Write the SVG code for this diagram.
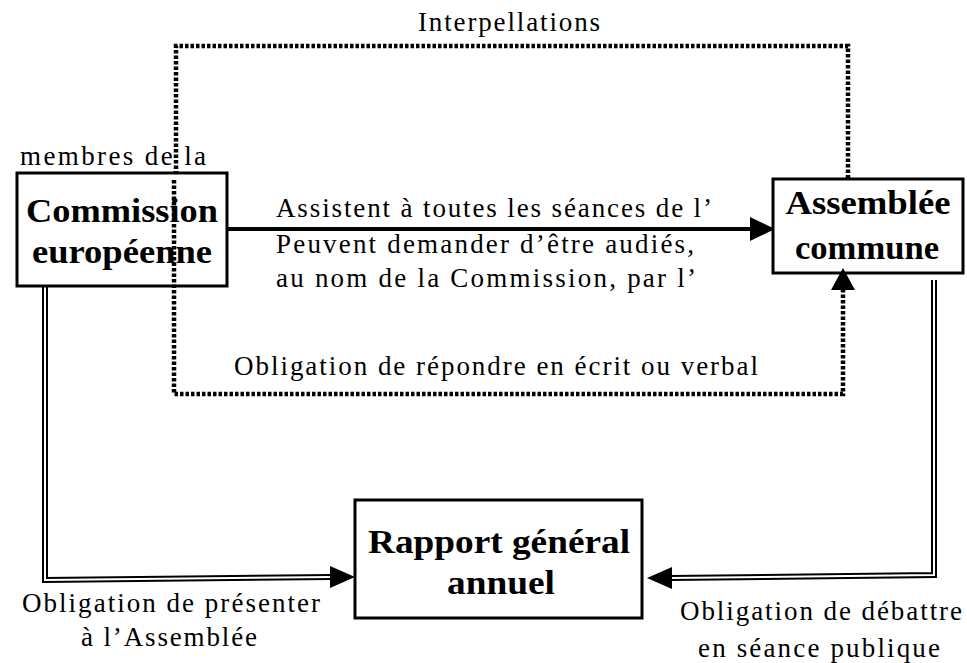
<svg xmlns="http://www.w3.org/2000/svg" width="967" height="663" viewBox="0 0 967 663">
<style>
.box{fill:#fff;stroke:#000;stroke-width:3}
.t{font-family:"Liberation Serif","Times New Roman",serif;font-size:27px;fill:#000}
.b{font-family:"Liberation Serif","Times New Roman",serif;font-size:34px;font-weight:bold;fill:#000}
.dot{fill:none;stroke:#000;stroke-width:4.5;stroke-dasharray:3.5 2}
.dbo{fill:none;stroke:#000;stroke-width:6}
.dbi{fill:none;stroke:#fff;stroke-width:2}
</style>
<rect width="967" height="663" fill="#fff"/>
<g id="connectors">
  <polyline class="dot" points="176,180 176,46 848,46 848,178"/>
  <polygon points="163,180 187,180 175,198"/>
  <polyline class="dbo" points="45,287 45,580 332,577"/>
  <polyline class="dbi" points="45,287 45,580 332,577"/>
  <polygon points="330,566 355,577 330,588"/>
  <polyline class="dbo" points="934,280 934,575 670,578"/>
  <polyline class="dbi" points="934,280 934,575 670,578"/>
  <polygon points="672,567 647,578 672,589"/>
  <line x1="228" y1="229" x2="752" y2="229" stroke="#000" stroke-width="4"/>
  <polygon points="750,217 775,229 750,241"/>
</g>
<g id="commission">
  <rect class="box" x="17" y="173" width="210" height="113"/>
  <text class="b" x="122" y="222" text-anchor="middle" textLength="192" lengthAdjust="spacingAndGlyphs">Commission</text>
  <text class="b" x="122" y="263" text-anchor="middle" textLength="180" lengthAdjust="spacingAndGlyphs">européenne</text>
</g>
<g id="assemblee">
  <rect class="box" x="773" y="179" width="190" height="94"/>
  <text class="b" x="868" y="214" text-anchor="middle" textLength="165" lengthAdjust="spacingAndGlyphs">Assemblée</text>
  <text class="b" x="867" y="259" text-anchor="middle" textLength="144" lengthAdjust="spacingAndGlyphs">commune</text>
</g>
<g id="rapport">
  <rect class="box" x="355" y="500" width="287" height="118"/>
  <text class="b" x="499" y="553" text-anchor="middle" textLength="262" lengthAdjust="spacingAndGlyphs">Rapport général</text>
  <text class="b" x="501" y="594" text-anchor="middle" textLength="108" lengthAdjust="spacingAndGlyphs">annuel</text>
</g>
<g id="dotted-return">
  <polyline class="dot" points="174,180 174,394 843,394 843,290"/>
  <polygon points="831,290 855,290 843,268"/>
</g>
<g id="labels">
  <text class="t" x="509" y="31" text-anchor="middle" textLength="182" lengthAdjust="spacing">Interpellations</text>
  <text class="t" x="20" y="165" textLength="186" lengthAdjust="spacing">membres de la</text>
  <text class="t" x="276" y="217" textLength="436" lengthAdjust="spacing">Assistent à toutes les séances de l’</text>
  <text class="t" x="276" y="253" textLength="418" lengthAdjust="spacing">Peuvent demander d’être audiés,</text>
  <text class="t" x="276" y="287" textLength="420" lengthAdjust="spacing">au nom de la Commission, par l’</text>
  <text class="t" x="234" y="375" textLength="524" lengthAdjust="spacing">Obligation de répondre en écrit ou verbal</text>
  <text class="t" x="22" y="612" textLength="298" lengthAdjust="spacing">Obligation de présenter</text>
  <text class="t" x="81" y="646" textLength="176" lengthAdjust="spacing">à l’Assemblée</text>
  <text class="t" x="680" y="620" textLength="282" lengthAdjust="spacing">Obligation de débattre</text>
  <text class="t" x="698" y="657" textLength="242" lengthAdjust="spacing">en séance publique</text>
</g>
</svg>
